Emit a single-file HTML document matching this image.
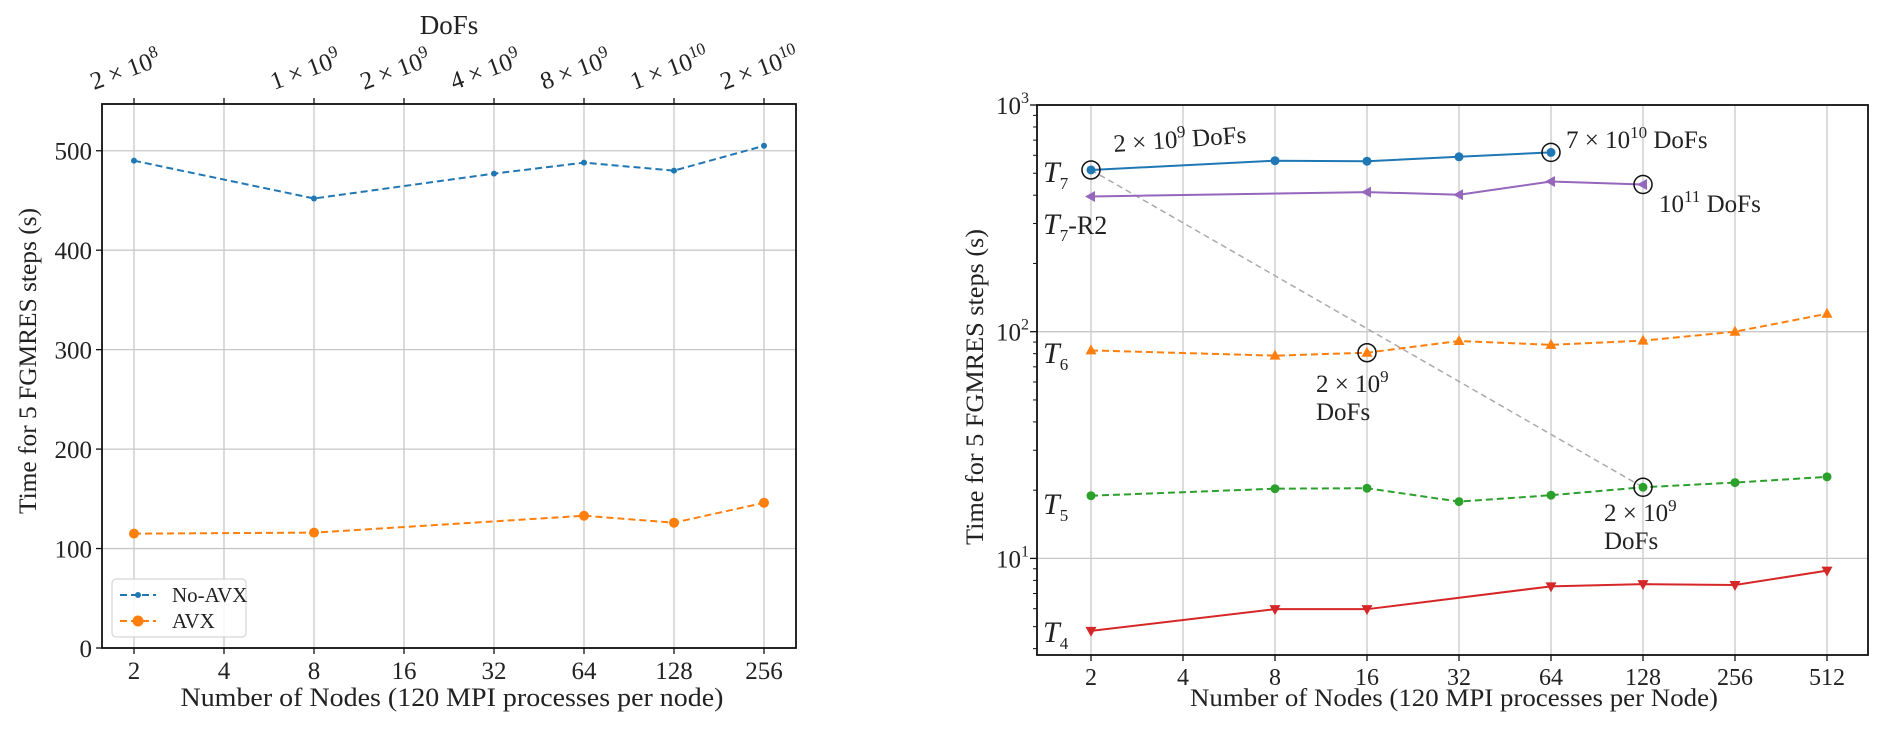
<!DOCTYPE html>
<html><head><meta charset="utf-8"><style>
html,body{margin:0;padding:0;background:#fff;}
svg{display:block;font-family:"Liberation Serif",serif;}
</style></head><body>
<svg id="svg" width="1892" height="741" viewBox="0 0 1892 741" xmlns="http://www.w3.org/2000/svg">
<g id="left"></g>
<g id="right"></g>
</svg>
<script>
// ---- Left chart data ----
const leftNodes = [2,4,8,16,32,64,128,256];
const leftYTicks = [0,100,200,300,400,500];
const topDofLabels = [["2",8],["1",9],["2",9],["4",9],["8",9],["1",10],["2",10]];
const topDofNodes = [2,8,16,32,64,128,256];
const noAvxNodes = [2,8,32,64,128,256];
const noAvxValues = [490,452,477,488,480,505];
const avxNodes = [2,8,64,128,256];
const avxValues = [115,116,133,126,146];

// ---- Right chart data ----
const rightNodes = [2,4,8,16,32,64,128,256,512];
const t7Nodes = [2,8,16,32,64];
const t7Values = [517,568,565,591,618];
const t7r2Nodes = [2,16,32,64,128];
const t7r2Values = [395,413,402,460,446];
const t6Nodes = [2,8,16,32,64,128,256,512];
const t6Values = [82.7,78.4,80.8,91,87.5,91.3,100,120];
const t5Nodes = [2,8,16,32,64,128,256,512];
const t5Values = [18.9,20.3,20.4,17.8,19.0,20.6,21.6,22.9];
const t4Nodes = [2,8,16,64,128,256,512];
const t4Values = [4.79,5.97,5.97,7.53,7.7,7.63,8.83];

const NS="http://www.w3.org/2000/svg";
function mk(parent,tag,attrs,name){const e=document.createElementNS(NS,tag);for(const k in attrs)e.setAttribute(k,attrs[k]);


parent.appendChild(e);return e;}
function txt(parent,x,y,s,size,anchor,name,extra){const e=mk(parent,'text',Object.assign({x:x,y:y,'font-size':size,'text-anchor':anchor||'middle',fill:'#222'},extra||{}),name);e.innerHTML=s;return e;}

// ================= LEFT =================
(function(){
const g=document.getElementById('left');
const L=102,R=796,T=104,B=648;
const xs=n=>134+Math.log2(n/2)*90;
const ys=v=>B-(v/547)*(B-T);
leftNodes.forEach(n=>mk(g,'line',{x1:xs(n),x2:xs(n),y1:T,y2:B,stroke:'#c8c8c8','stroke-width':1.3},'x-grid-line'));
leftYTicks.forEach(v=>mk(g,'line',{x1:L,x2:R,y1:ys(v),y2:ys(v),stroke:'#c8c8c8','stroke-width':1.3},'y-grid-line'));
function series(nodes,vals,color,r,name){
  const pts=nodes.map((n,i)=>xs(n)+','+ys(vals[i])).join(' ');
  mk(g,'polyline',{points:pts,fill:'none',stroke:color,'stroke-width':2,'stroke-dasharray':'7,4'},name+'-line');
  nodes.forEach((n,i)=>mk(g,'circle',{cx:xs(n),cy:ys(vals[i]),r:r,fill:color},name+'-point'));
}
series(noAvxNodes,noAvxValues,'#1f77b4',3,'no-avx');
series(avxNodes,avxValues,'#ff7f0e',5,'avx');
mk(g,'rect',{x:L,y:T,width:R-L,height:B-T,fill:'none',stroke:'#111','stroke-width':1.8},'plot-frame');
leftNodes.forEach(n=>{mk(g,'line',{x1:xs(n),x2:xs(n),y1:B,y2:B+6,stroke:'#111','stroke-width':1.3},'x-tick');
 mk(g,'line',{x1:xs(n),x2:xs(n),y1:T,y2:T-6,stroke:'#111','stroke-width':1.3},'top-tick');
 txt(g,xs(n),B+31,n,25,'middle','x-tick-label');});
leftYTicks.forEach(v=>{mk(g,'line',{x1:L,x2:L-6,y1:ys(v),y2:ys(v),stroke:'#111','stroke-width':1.3},'y-tick');
 txt(g,L-10,ys(v)+9,v,25,'end','y-tick-label');});
topDofNodes.forEach((n,i)=>{const [m,e]=topDofLabels[i];
 const x0=xs(n)-40,y0=T-14;
 txt(g,x0,y0,m+' × 10<tspan dy="-10" font-size="17">'+e+'</tspan>',25,'start','top-dof-label',{transform:'rotate(-20 '+x0+' '+y0+')'});});
txt(g,449,34,'DoFs',27,'middle','top-axis-title');
txt(g,452,706,'Number of Nodes (120 MPI processes per node)',26,'middle','x-axis-title',{textLength:543,lengthAdjust:'spacingAndGlyphs'});
txt(g,0,0,'Time for 5 FGMRES steps (s)',25,'middle','y-axis-title',{transform:'translate(36,361) rotate(-90)',textLength:306,lengthAdjust:'spacingAndGlyphs'});
const lg=mk(g,'g',{},'legend');
mk(lg,'rect',{x:112,y:579,width:134,height:58,rx:4,fill:'#fff','fill-opacity':0.85,stroke:'#ccc'},'legend-box');
mk(lg,'line',{x1:120,x2:156,y1:595,y2:595,stroke:'#1f77b4','stroke-width':2,'stroke-dasharray':'7,4'},'legend-no-avx-line');
mk(lg,'circle',{cx:138,cy:595,r:3,fill:'#1f77b4'},'legend-no-avx-marker');
txt(lg,172,602,'No-AVX',21,'start','legend-no-avx-label');
mk(lg,'line',{x1:120,x2:156,y1:621,y2:621,stroke:'#ff7f0e','stroke-width':2,'stroke-dasharray':'7,4'},'legend-avx-line');
mk(lg,'circle',{cx:138,cy:621,r:5.5,fill:'#ff7f0e'},'legend-avx-marker');
txt(lg,172,628,'AVX',21,'start','legend-avx-label');
})();

// ================= RIGHT =================
(function(){
const g=document.getElementById('right');
const L=1037,R=1868,T=105,B=655;
const xs=n=>1091+Math.log2(n/2)*92;
const ys=v=>T+(3-Math.log10(v))*226.7;
rightNodes.forEach(n=>mk(g,'line',{x1:xs(n),x2:xs(n),y1:T,y2:B,stroke:'#c8c8c8','stroke-width':1.3},'x-grid-line'));
[1000,100,10].forEach(v=>mk(g,'line',{x1:L,x2:R,y1:ys(v),y2:ys(v),stroke:'#c8c8c8','stroke-width':1.3},'y-grid-line'));
mk(g,'line',{x1:xs(t7Nodes[0]),y1:ys(t7Values[0]),x2:xs(128),y2:ys(t5Values[5]),stroke:'#aaa','stroke-width':1.5,'stroke-dasharray':'6,4'},'dofs-guide-line');
function series(nodes,vals,color,dash,marker,name){
  const pts=nodes.map((n,i)=>xs(n)+','+ys(vals[i])).join(' ');
  const a={points:pts,fill:'none',stroke:color,'stroke-width':2};if(dash)a['stroke-dasharray']='7,4';
  mk(g,'polyline',a,name+'-line');
  nodes.forEach((n,i)=>{const x=xs(n),y=ys(vals[i]);let p;
   if(marker==='o')mk(g,'circle',{cx:x,cy:y,r:4.5,fill:color},name+'-point');
   else{if(marker==='^')p=[[x,y-6],[x-5.5,y+4],[x+5.5,y+4]];else if(marker==='v')p=[[x,y+6],[x-5.5,y-4],[x+5.5,y-4]];else p=[[x-6,y],[x+4,y-5.5],[x+4,y+5.5]];
   mk(g,'polygon',{points:p.map(q=>q.join(',')).join(' '),fill:color},name+'-point');}});
}
series(t7Nodes,t7Values,'#1f77b4',false,'o','t7');
series(t7r2Nodes,t7r2Values,'#9467bd',false,'<','t7-r2');
series(t6Nodes,t6Values,'#ff7f0e',true,'^','t6');
series(t5Nodes,t5Values,'#2ca02c',true,'o','t5');
series(t4Nodes,t4Values,'#d62728',false,'v','t4');
[[2,t7Values[0]],[64,t7Values[4]],[128,t7r2Values[4]],[16,t6Values[2]],[128,t5Values[5]]].forEach(p=>
 mk(g,'circle',{cx:xs(p[0]),cy:ys(p[1]),r:9,fill:'none',stroke:'#111','stroke-width':1.5},'highlight-circle'));
mk(g,'rect',{x:L,y:T,width:R-L,height:B-T,fill:'none',stroke:'#111','stroke-width':1.8},'plot-frame');
rightNodes.forEach(n=>{mk(g,'line',{x1:xs(n),x2:xs(n),y1:B,y2:B+6,stroke:'#111','stroke-width':1.3},'x-tick');
 txt(g,xs(n),B+30,n,24,'middle','x-tick-label');});
[[1000,3],[100,2],[10,1]].forEach(([v,e])=>{mk(g,'line',{x1:L,x2:L-7,y1:ys(v),y2:ys(v),stroke:'#111','stroke-width':1.3},'y-tick');
 txt(g,L-8,ys(v)+9,'10<tspan dy="-11" font-size="16">'+e+'</tspan>',25,'end','y-tick-label');});
[4,5,6,7,8,9,20,30,40,50,60,70,80,90,200,300,400,500,600,700,800,900].forEach(v=>
 mk(g,'line',{x1:L,x2:L-4,y1:ys(v),y2:ys(v),stroke:'#111','stroke-width':1},'y-minor-tick'));
const sup=(e)=>'<tspan dy="-10" font-size="17">'+e+'</tspan>';
txt(g,1114,152,'2 × 10'+sup(9)+'<tspan dy="10"> DoFs</tspan>',25,'start','t7-start-dofs',{transform:'rotate(-4 1114 152)'});
txt(g,1566,148,'7 × 10'+sup(10)+'<tspan dy="10"> DoFs</tspan>',25,'start','t7-end-dofs');
txt(g,1659,212,'10'+sup(11)+'<tspan dy="10"> DoFs</tspan>',25,'start','t7-r2-end-dofs');
txt(g,1316,392,'2 × 10'+sup(9),25,'start','t6-dofs-a');
txt(g,1316,420,'DoFs',25,'start','t6-dofs-b');
txt(g,1604,521,'2 × 10'+sup(9),25,'start','t5-dofs-a');
txt(g,1604,549,'DoFs',25,'start','t5-dofs-b');
const lab=(y,s,name)=>txt(g,1043,y,'<tspan font-style="italic" font-size="30">T</tspan>'+s,26,'start',name);
lab(182,'<tspan dy="7" font-size="17">7</tspan>','t7-label');
lab(234,'<tspan dy="7" font-size="17">7</tspan><tspan dy="-7">-R2</tspan>','t7-r2-label');
lab(363,'<tspan dy="7" font-size="17">6</tspan>','t6-label');
lab(514,'<tspan dy="7" font-size="17">5</tspan>','t5-label');
lab(642,'<tspan dy="7" font-size="17">4</tspan>','t4-label');
txt(g,1454,706,'Number of Nodes (120 MPI processes per Node)',25,'middle','x-axis-title',{textLength:528,lengthAdjust:'spacingAndGlyphs'});
txt(g,0,0,'Time for 5 FGMRES steps (s)',25,'middle','y-axis-title',{transform:'translate(983,387) rotate(-90)',textLength:316,lengthAdjust:'spacingAndGlyphs'});
})();
</script>
</body></html>
